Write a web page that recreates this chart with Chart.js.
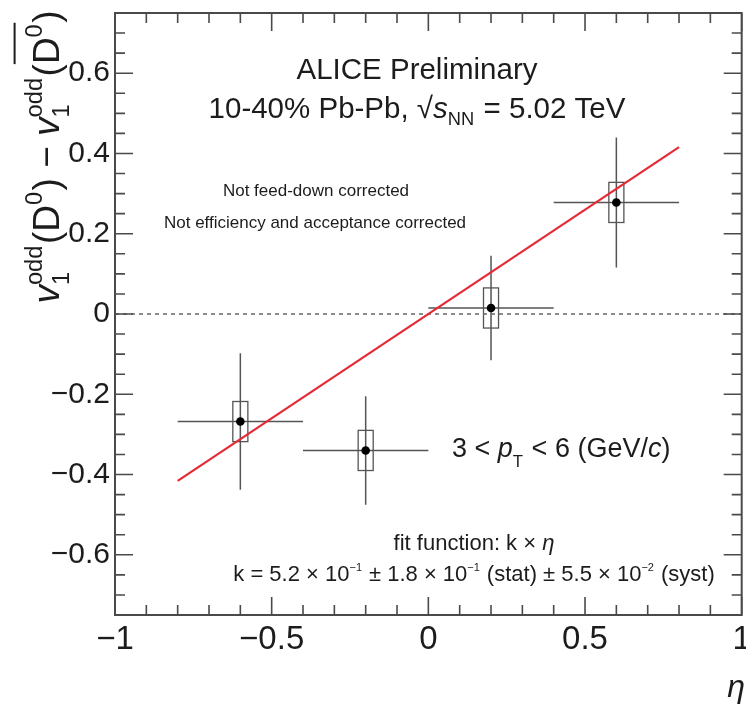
<!DOCTYPE html>
<html>
<head>
<meta charset="utf-8">
<script src="https://cdn.jsdelivr.net/npm/chart.js@4.4.1/dist/chart.umd.min.js"></script>
<style>
  html, body { margin: 0; padding: 0; background: #fff; }
</style>
</head>
<body>
<canvas id="v1Chart" width="746" height="706"></canvas>
<script>
// v1(odd) difference D0 - D0bar vs eta, 10-40% Pb-Pb
const etaCenters = [-0.6, -0.2, 0.2, 0.6];
const etaHalfWidth = [0.2, 0.2, 0.2, 0.2];
const dv1 = [-0.268, -0.340, 0.015, 0.278];
const statErr = [0.170, 0.135, 0.130, 0.162];
const systErr = [0.050, 0.050, 0.050, 0.050];
const systBoxHalfWidth = 0.024;

// fit k * eta
const fitK = 0.52;
const fitEta = [-0.8, 0.8];

const xTicks = [-1, -0.5, 0, 0.5, 1];
const yTicks = [-0.6, -0.4, -0.2, 0, 0.2, 0.4, 0.6];

const FONT = '"Liberation Sans", Arial, Helvetica, sans-serif';
const INK = '#1c1c1c';
const AXIS = '#4a4a4a';
const BARS = '#555';

function fmt(v) {
  const a = Math.abs(Math.round(v * 10) / 10);
  return (v < -1e-9 ? '\u2212' : '') + String(a);
}

function fontStr(px, it) {
  return (it ? 'italic ' : '') + px + 'px ' + FONT;
}

// text with sub/superscripts: runs of {t, it} or {sup, sub}
function runWidth(ctx, r, size) {
  if (r.t !== undefined) {
    ctx.font = fontStr(size, r.it);
    return ctx.measureText(r.t).width;
  }
  const ss = size * (r.scale || 0.62);
  let w = 0;
  if (r.sup) { ctx.font = fontStr(ss, r.supIt); w = Math.max(w, ctx.measureText(r.sup).width); }
  if (r.sub) { ctx.font = fontStr(ss, r.subIt); w = Math.max(w, ctx.measureText(r.sub).width); }
  return w + size * 0.04;
}

function drawRich(ctx, runs, x, y, size, align) {
  const widths = runs.map(r => runWidth(ctx, r, size));
  const total = widths.reduce((a, b) => a + b, 0);
  let cx = align === 'center' ? x - total / 2 : (align === 'right' ? x - total : x);
  ctx.fillStyle = INK;
  ctx.textAlign = 'left';
  ctx.textBaseline = 'alphabetic';
  let overStart = null;
  runs.forEach((r, i) => {
    if (r.t !== undefined) {
      ctx.font = fontStr(size, r.it);
      ctx.fillText(r.t, cx, y);
    } else {
      const ss = size * (r.scale || 0.62);
      if (r.sup) { ctx.font = fontStr(ss, r.supIt); ctx.fillText(r.sup, cx, y - size * (r.supUp || 0.42)); }
      if (r.sub) { ctx.font = fontStr(ss, r.subIt); ctx.fillText(r.sub, cx, y + size * (r.subDown || 0.22)); }
    }
    if (r.over && overStart === null) overStart = cx;
    cx += widths[i];
    if (r.over && !(runs[i + 1] && runs[i + 1].over)) {
      ctx.strokeStyle = INK;
      ctx.lineWidth = 2;
      ctx.beginPath();
      ctx.moveTo(overStart, y - size * 1.2);
      ctx.lineTo(cx, y - size * 1.2);
      ctx.stroke();
      overStart = null;
    }
  });
  return total;
}

// frame, inward ticks, error bars and boxes, labels
const decorations = {
  id: 'decorations',
  beforeDatasetsDraw(chart) {
    const ctx = chart.ctx;
    const xs = chart.scales.x, ys = chart.scales.y;
    ctx.save();
    ctx.strokeStyle = BARS;
    ctx.lineWidth = 1.5;
    for (let i = 0; i < etaCenters.length; i++) {
      const px = xs.getPixelForValue(etaCenters[i]);
      const py = ys.getPixelForValue(dv1[i]);
      ctx.beginPath();
      ctx.moveTo(xs.getPixelForValue(etaCenters[i] - etaHalfWidth[i]), py);
      ctx.lineTo(xs.getPixelForValue(etaCenters[i] + etaHalfWidth[i]), py);
      ctx.moveTo(px, ys.getPixelForValue(dv1[i] + statErr[i]));
      ctx.lineTo(px, ys.getPixelForValue(dv1[i] - statErr[i]));
      ctx.stroke();
      const bx0 = xs.getPixelForValue(etaCenters[i] - systBoxHalfWidth);
      const bx1 = xs.getPixelForValue(etaCenters[i] + systBoxHalfWidth);
      const by0 = ys.getPixelForValue(dv1[i] + systErr[i]);
      const by1 = ys.getPixelForValue(dv1[i] - systErr[i]);
      ctx.lineWidth = 1.3;
      ctx.strokeRect(bx0, by0, bx1 - bx0, by1 - by0);
      ctx.lineWidth = 1.5;
    }
    ctx.restore();
  },
  afterDraw(chart) {
    const ctx = chart.ctx;
    const a = chart.chartArea;
    const xs = chart.scales.x, ys = chart.scales.y;
    ctx.save();
    ctx.strokeStyle = AXIS;
    ctx.lineWidth = 2;
    ctx.strokeRect(a.left, a.top, a.right - a.left, a.bottom - a.top);
    ctx.lineWidth = 1.6;
    ctx.beginPath();
    for (let k = -10; k <= 10; k++) {
      const v = k / 10;
      const len = (k % 5 === 0) ? 18 : 10;
      const px = xs.getPixelForValue(v);
      ctx.moveTo(px, a.bottom); ctx.lineTo(px, a.bottom - len);
      ctx.moveTo(px, a.top); ctx.lineTo(px, a.top + len);
    }
    for (let k = -14; k <= 14; k++) {
      const v = k / 20;
      const len = (k % 4 === 0) ? 18 : 10;
      const py = ys.getPixelForValue(v);
      ctx.moveTo(a.left, py); ctx.lineTo(a.left + len, py);
      ctx.moveTo(a.right, py); ctx.lineTo(a.right - len, py);
    }
    ctx.stroke();

    // header
    drawRich(ctx, [{ t: 'ALICE Preliminary' }], 417, 79, 29.5, 'center');
    drawRich(ctx, [
      { t: '10-40% Pb-Pb, ' },
      { t: '\u221A' },
      { t: 's', it: true },
      { sub: 'NN', subDown: 0.25 },
      { t: ' = 5.02 TeV' }
    ], 417, 118, 29.5, 'center');

    drawRich(ctx, [{ t: 'Not feed-down corrected' }], 316, 196, 17, 'center');
    drawRich(ctx, [{ t: 'Not efficiency and acceptance corrected' }], 315, 228, 17, 'center');

    drawRich(ctx, [
      { t: '3 < ' },
      { t: 'p', it: true },
      { sub: 'T', subDown: 0.36 },
      { t: ' < 6 (GeV/' },
      { t: 'c', it: true },
      { t: ')' }
    ], 452, 457, 27, 'left');

    drawRich(ctx, [{ t: 'fit function: k \u00D7 ' }, { t: '\u03B7', it: true }], 474, 550, 22, 'center');
    drawRich(ctx, [
      { t: 'k = 5.2 \u00D7 10' }, { sup: '\u22121', scale: 0.5, supUp: 0.45 },
      { t: ' \u00B1 1.8 \u00D7 10' }, { sup: '\u22121', scale: 0.5, supUp: 0.45 },
      { t: ' (stat) \u00B1 5.5 \u00D7 10' }, { sup: '\u22122', scale: 0.5, supUp: 0.45 },
      { t: ' (syst)' }
    ], 474, 581, 22, 'center');

    // axis titles
    ctx.save();
    ctx.translate(59, 157);
    ctx.rotate(-Math.PI / 2);
    drawRich(ctx, [
      { t: 'v', it: true }, { sup: 'odd', sub: '1', scale: 0.64, supUp: 0.46, subDown: 0.26 },
      { t: '(D' }, { sup: '0', scale: 0.64, supUp: 0.46 },
      { t: ') \u2212 ' },
      { t: 'v', it: true }, { sup: 'odd', sub: '1', scale: 0.64, supUp: 0.46, subDown: 0.26 },
      { t: '(' }, { t: 'D', over: true }, { sup: '0', scale: 0.64, supUp: 0.46, over: true },
      { t: ')' }
    ], 0, 0, 37, 'center');
    ctx.restore();

    drawRich(ctx, [{ t: '\u03B7', it: true }], 745, 697, 32, 'right');
    ctx.restore();
  }
};

const points = etaCenters.map((x, i) => ({ x: x, y: dv1[i] }));
const fitLine = fitEta.map(x => ({ x: x, y: fitK * x }));

new Chart(document.getElementById('v1Chart'), {
  type: 'scatter',
  data: {
    datasets: [
      {
        label: 'D0 - D0bar',
        data: points,
        pointRadius: 4.3,
        pointBackgroundColor: '#000',
        pointBorderWidth: 0,
        showLine: false,
        order: 0
      },
      {
        label: 'fit',
        data: fitLine,
        showLine: true,
        borderColor: 'rgb(228,42,52)',
        borderWidth: 2.2,
        pointRadius: 0,
        order: 1
      },
      {
        label: 'zero',
        data: [{ x: -1, y: 0 }, { x: 1, y: 0 }],
        showLine: true,
        borderColor: '#666',
        borderWidth: 1.5,
        borderDash: [4, 4],
        pointRadius: 0,
        order: 2
      }
    ]
  },
  options: {
    responsive: false,
    animation: false,
    layout: { padding: { top: 13, right: 2, left: 0, bottom: 0 } },
    plugins: { legend: { display: false }, tooltip: { enabled: false } },
    scales: {
      x: {
        type: 'linear',
        min: -1,
        max: 1,
        afterBuildTicks: s => { s.ticks = xTicks.map(v => ({ value: v })); },
        afterFit: s => { s.height = 91; s.paddingLeft = 0; s.paddingRight = 0; },
        grid: { display: false, drawTicks: false },
        border: { display: false },
        ticks: {
          font: { family: FONT, size: 33 },
          color: INK,
          padding: 5,
          maxRotation: 0,
          autoSkip: false,
          callback: v => fmt(v)
        }
      },
      y: {
        type: 'linear',
        min: -0.75,
        max: 0.75,
        afterBuildTicks: s => { s.ticks = yTicks.map(v => ({ value: v })); },
        afterFit: s => { s.width = 115; s.paddingTop = 0; s.paddingBottom = 0; },
        grid: { display: false, drawTicks: false },
        border: { display: false },
        ticks: {
          font: { family: FONT, size: 30 },
          color: INK,
          padding: 5,
          autoSkip: false,
          callback: v => fmt(v)
        }
      }
    }
  },
  plugins: [decorations]
});
</script>
</body>
</html>
